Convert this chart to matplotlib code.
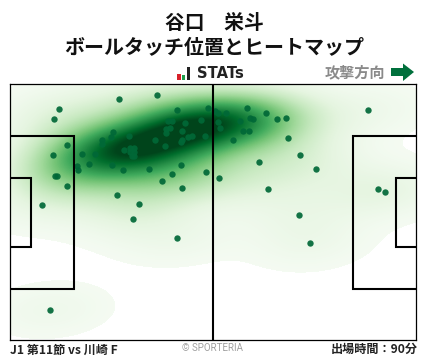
import numpy as np
import matplotlib
matplotlib.use("Agg")
import matplotlib.pyplot as plt
from matplotlib.patches import Rectangle, Polygon

plt.rcParams['font.family'] = ['Noto Sans CJK JP', 'DejaVu Sans']

# touch positions (pitch frame in picture units)
touch_x = [59.3,54.3,119.3,157.3,177.3,208.3,67.3,53.3,54.7,56.7,67.3,42.3,82.3,95.3,77.3,78.3,89.3,
           112.3,123.3,149.3,181.3,172.3,162.3,182.3,206.3,117.3,139.3,133.3,113.3,111.3,102.3,102.3,
           129.3,124.3,130.3,134.3,130.3,134.3,132.3,134.3,155.3,165.3,166.3,166.3,170.3,168.3,172.3,
           185.3,182.3,182.3,181.3,188.3,192.3,201.3,205.3,368.3,247.3,266.3,277.3,286.3,250.3,253.3,
           240.3,226.3,218.0,215.0,218.0,220.0,243.3,249.3,233.3,288.3,300.3,259.3,316.3,219.3,268.3,
           299.3,378.3,385.3,50.3,177.3,310.3]
touch_y = [109.3,119.3,99.3,95.3,110.3,108.3,145.3,155.3,176.3,176.3,186.3,205.3,154.3,154.3,166.3,170.3,164.3,
           165.3,170.3,169.3,165.3,174.3,181.3,188.3,172.3,195.3,204.3,218.7,132.3,137.3,140.3,144.3,
           136.3,150.3,148.3,148.3,152.3,152.3,156.3,156.3,140.3,146.3,133.3,129.3,128.3,121.3,121.3,
           123.3,131.3,140.3,142.3,137.3,136.3,120.3,136.3,110.3,108.3,113.3,119.3,118.3,118.3,119.3,
           121.3,113.3,113.3,111.3,122.0,128.0,131.3,131.3,140.3,138.3,155.3,162.3,169.3,178.3,189.3,
           215.3,189.3,192.3,310.3,238.3,243.3]

FIG_W, FIG_H = 428, 359
L, R, T, B = 10.2, 416.2, 84.2, 340.2

fig = plt.figure(figsize=(FIG_W/100, FIG_H/100), dpi=100, facecolor='white')
ax = fig.add_axes([L/FIG_W, 1-B/FIG_H, (R-L)/FIG_W, (B-T)/FIG_H])
ax.set_xticks([]); ax.set_yticks([])
for s in ax.spines.values():
    s.set_linewidth(0.9); s.set_color('black'); s.set_zorder(6)

# gaussian KDE with the full data covariance
pts = np.array([touch_x, touch_y], dtype=float)
factor = 0.5
cov = np.cov(pts) * factor**2
inv = np.linalg.inv(cov)
gx, gy = np.meshgrid(np.linspace(L, R, 406), np.linspace(T, B, 256))
z = np.zeros_like(gx)
for px, py in pts.T:
    dx, dy = gx-px, gy-py
    z += np.exp(-0.5*(inv[0,0]*dx*dx + 2*inv[0,1]*dx*dy + inv[1,1]*dy*dy))
z /= z.max()
cmap = plt.get_cmap('Greens').copy()
cmap.set_bad('white')
z_masked = np.ma.masked_less(z, 0.012)
ax.imshow(z_masked, extent=(L, R, B, T), cmap=cmap, vmin=-0.005, vmax=0.9,
          interpolation='bilinear', aspect='auto', zorder=1)
ax.set_xlim(L, R)
ax.set_ylim(B, T)

# pitch markings
lc = 'black'; lw = 1.5
ax.plot([213, 213], [T, B], color=lc, lw=lw, zorder=5, solid_capstyle='butt')
for x0, x1, y0, y1 in [(L,74,136,289),(L,31,178,247),(R,353,136,289),(R,396,178,247)]:
    ax.plot([x0,x1,x1,x0],[y0,y0,y1,y1],color=lc,lw=lw,zorder=5,solid_joinstyle='miter',solid_capstyle='butt')

ax.scatter(touch_x, touch_y, s=21, color='#006837', alpha=0.92, linewidths=0, zorder=4)

def fx(v): return v/FIG_W
def fy(v): return 1-v/FIG_H

fig.text(fx(214), fy(23), '谷口　栄斗', ha='center', va='center', fontsize=14.2, fontweight='bold', color='#111111')
fig.text(fx(214), fy(47.5), 'ボールタッチ位置とヒートマップ', ha='center', va='center', fontsize=14.4, fontweight='bold', color='#111111')
fig.text(fx(196.5), fy(73.5), 'STATs', ha='left', va='center', fontsize=10.6, fontweight='bold', color='#222222', family=['DejaVu Sans'])
fig.text(fx(355), fy(72), '攻撃方向', ha='center', va='center', fontsize=10.9, fontweight='bold', color='#8a8a8a')

# logo bars
for x0, w, y0, c in [(177,3.5,74,'#d8202a'),(181.5,3.5,75,'#1f9e4a'),(186.5,3.5,67,'#222222')]:
    fig.add_artist(Rectangle((fx(x0), fy(80)), w/FIG_W, (80-y0)/FIG_H, transform=fig.transFigure, color=c, lw=0))
# direction arrow
arrow = [(391,68),(403,68),(403,63.5),(414,72),(403,81),(403,76),(391,76)]
fig.add_artist(Polygon([(fx(a),fy(b)) for a,b in arrow], closed=True, transform=fig.transFigure, color='#00703c', lw=0))

fig.text(fx(10.5), fy(350), 'J1 第11節 vs 川崎 F', ha='left', va='center', fontsize=8.7, fontweight='bold', color='#222222')
fig.text(fx(213), fy(348), '© SPORTERIA', ha='center', va='center', fontsize=7, color='#a0a0a0', family=['Roboto','DejaVu Sans'])
fig.text(fx(418), fy(349.5), '出場時間：90分', ha='right', va='center', fontsize=8.7, fontweight='bold', color='#222222')

fig.savefig('out.png', dpi=100)
